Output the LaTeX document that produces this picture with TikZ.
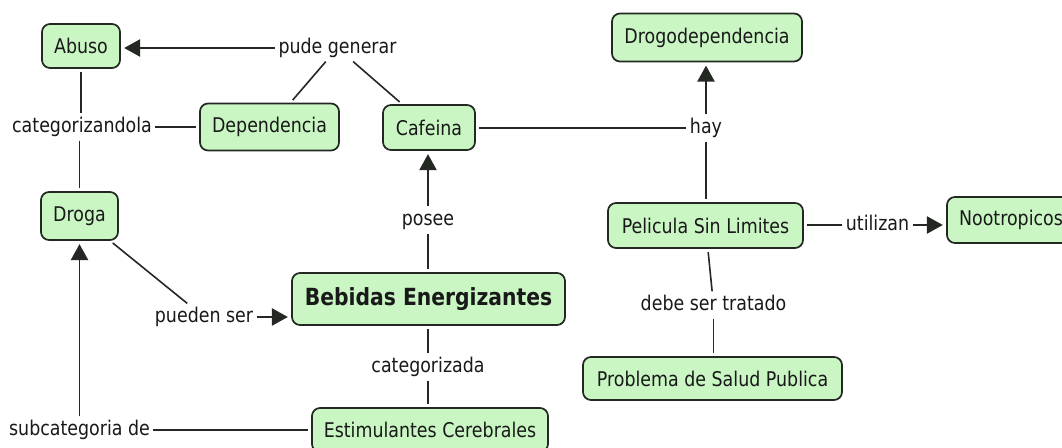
\documentclass[tikz,border=0pt]{standalone}
\usepackage{fontspec}
\setmainfont{DejaVu Sans}[FakeStretch=0.86]
\usetikzlibrary{arrows.meta}
\definecolor{boxfill}{RGB}{202,246,196}
\definecolor{boxline}{RGB}{35,40,35}
\definecolor{txt}{RGB}{25,25,25}
\begin{document}
\begin{tikzpicture}[x=0.75pt,y=-0.75pt,
  concept/.style={draw=boxline, line width=1.3pt, fill=boxfill, rounded corners=6pt,
    inner sep=0pt, text=txt, font=\fontsize{15.2pt}{18pt}\selectfont},
  lbl/.style={inner xsep=2.5pt, inner ysep=2.5pt, text height=11.5pt, text depth=3.5pt,
    text=txt, font=\fontsize{15.2pt}{18pt}\selectfont},
  conn/.style={draw=boxline, line width=1.2pt, shorten >=2.5pt},
  arr/.style={conn, -{Triangle[length=12pt,width=13pt]}}]
\useasboundingbox (0,0) rectangle (1062,448);
\fill[white] (0,0) rectangle (1062,448);

% concepts
\node[concept, minimum width=58.5pt, minimum height=33pt] (Abuso) at (81,46) {Abuso};
\node[concept, minimum width=104.25pt, minimum height=35.25pt] (Dep) at (269.5,127) {Dependencia};
\node[concept, minimum width=69pt, minimum height=33.75pt] (Caf) at (429,127.5) {Cafeina};
\node[concept, minimum width=142.5pt, minimum height=36pt] (Drogo) at (707,37.5) {Drogodependencia};
\node[concept, minimum width=57.75pt, minimum height=36pt] (Droga) at (79.5,216) {Droga};
\node[concept, minimum width=146.25pt, minimum height=33.75pt] (Pel) at (705.5,225.5) {Pelicula Sin Limites};
\node[concept, minimum width=96pt, minimum height=34.5pt] (Noot) at (1011,220) {Nootropicos};
\node[concept, minimum width=204.75pt, minimum height=39pt, font=\fontsize{17.7pt}{21pt}\selectfont\bfseries] (Beb) at (428.5,299) {Bebidas Energizantes};
\node[concept, minimum width=194.25pt, minimum height=32.25pt] (Prob) at (712.5,378.5) {Problema de Salud Publica};
\node[concept, minimum width=177pt, minimum height=33pt] (Est) at (430,430) {Estimulantes Cerebrales};

% linking phrases
\node[lbl] (pude) at (337.5,48) {pude generar};
\node[lbl] (cat) at (82,127) {categorizandola};
\node[lbl] (hay) at (706,128) {hay};
\node[lbl] (posee) at (428,220) {posee};
\node[lbl] (util) at (877.5,225) {utilizan};
\node[lbl] (pueden) at (204,317) {pueden ser};
\node[lbl] (debe) at (713.5,305) {debe ser tratado};
\node[lbl] (categ) at (428,367) {categorizada};
\node[lbl] (subc) at (79.5,430) {subcategoria de};

% connectors
\draw[arr] (pude.west) -- (pude.west -| Abuso.east);
\draw[conn] (pude) -- (Dep);
\draw[conn] (pude) -- (Caf);
\draw[conn] (Abuso.south |- cat.north) -- (Abuso.south);
\draw[conn] (cat.east) -- (cat.east -| Dep.west);
\draw[conn] (Droga.north |- cat.south) -- (Droga.north);
\draw[conn] (hay.west) -- (hay.west -| Caf.east);
\draw[arr] (hay.north) -- (hay.north |- Drogo.south);
\draw[conn] (hay.south) -- (hay.south |- Pel.north);
\draw[arr] (posee.north) -- (posee.north |- Caf.south);
\draw[conn] (posee.south) -- (posee.south |- Beb.north);
\draw[conn] (util.west) -- (util.west -| Pel.east);
\draw[arr] (util.east) -- (util.east -| Noot.west);
\draw[conn] (debe) -- (Pel);
\draw[conn] (debe.south) -- (debe.south |- Prob.north);
\draw[conn] (pueden) -- (Droga);
\draw[arr] (pueden.east) -- (pueden.east -| Beb.west);
\draw[conn] (categ.north) -- (categ.north |- Beb.south);
\draw[conn] (categ.south) -- (categ.south |- Est.north);
\draw[conn] (subc.east) -- (subc.east -| Est.west);
\draw[arr] (subc.north) -- (subc.north |- Droga.south);
\end{tikzpicture}
\end{document}
